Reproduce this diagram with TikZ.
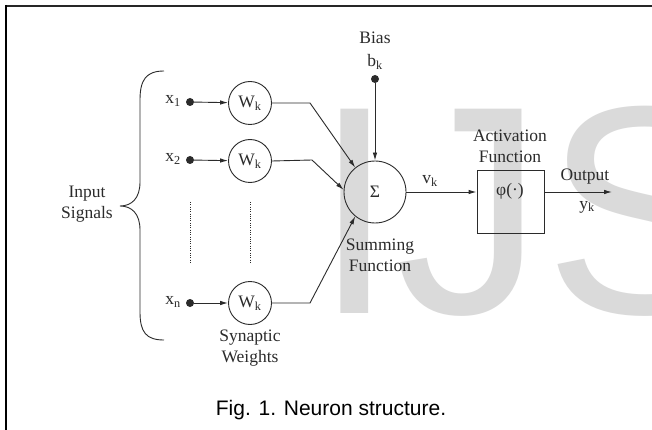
\documentclass[tikz,border=0pt]{standalone}
\usepackage{fontspec}
\newfontfamily\capfont{Liberation Sans}
\newfontfamily\dfont{Liberation Serif}
\usetikzlibrary{arrows.meta}
\definecolor{ink}{HTML}{2B2B2B}
\definecolor{wm}{HTML}{DADADA}
\newcommand\dtext{\dfont\fontsize{17.5}{21}\selectfont}
\begin{document}
\begin{tikzpicture}[x=1pt,y=-1pt,
  lbl/.style={align=center, inner sep=0, font=\dtext, text=ink},
  line/.style={draw=ink, line width=0.9pt},
  arr/.style={line, -{Latex[length=8pt,width=4.5pt]}},
  wnode/.style={circle, draw=ink, line width=0.9pt, minimum size=43pt, inner sep=0, font=\dtext, text=ink},
  dotnode/.style={circle, fill=ink, minimum size=8pt, inner sep=0},
  dotline/.style={draw=ink, line width=0.8pt, dash pattern=on 1pt off 1.3pt},
]
\useasboundingbox (0,0) rectangle (652,430);
\fill[white] (0,0) rectangle (652,430);
% watermark
\begin{scope}
\clip (0,0) rectangle (652,430);
\node[anchor=base west, inner sep=0, text=wm, font=\capfont\fontsize{297}{300}\selectfont] (wmark) at (313,313) {IJS};
\end{scope}
% frame
\draw[black!85, line width=1.8pt] (5,6) -- (652,6);
\draw[black, line width=2.2pt] (6,5) -- (6,430);

% inputs
\node[dotnode] (d1) at (190,102) {};
\node[dotnode] (d2) at (190,160) {};
\node[dotnode] (dn) at (190,303) {};
\node[lbl, anchor=east] (x1) at (181,101) {x\textsubscript{1}};
\node[lbl, anchor=east] (x2) at (181,159) {x\textsubscript{2}};
\node[lbl, anchor=east] (xn) at (181,302) {x\textsubscript{n}};

\node[wnode] (w1) at (250,103) {W\textsubscript{k}};
\node[wnode] (w2) at (250,161) {W\textsubscript{k}};
\node[wnode] (wn) at (250,303) {W\textsubscript{k}};

\draw[arr] (d1) -- (w1);
\draw[arr] (d2) -- (w2);
\draw[arr] (dn) -- (wn);

\coordinate (a1) at (190,202); \coordinate (a2) at (190,263);
\coordinate (c1) at (250,202); \coordinate (c2) at (250,263);
\draw[dotline] (a1) -- (a2);
\draw[dotline] (c1) -- (c2);

% brace
\coordinate (bt) at (164,71);
\coordinate (bb) at (164,340);
\coordinate (btip) at (120,206);
\draw[ink, line width=0.9pt] (bt) .. controls (146,71) and (140,80) .. (140,100)
  -- (140,182) .. controls (140,198) and (132,206) .. (btip)
  .. controls (132,206) and (140,214) .. (140,230)
  -- (140,312) .. controls (140,332) and (146,340) .. (bb);
\node[lbl] (inp) at (87,204) {Input\\Signals};

% summing
\node[circle, draw=ink, line width=0.9pt, minimum size=62pt, inner sep=0, font=\dtext, text=ink] (sum) at (375,192) {Σ};
\node[dotnode] (bias) at (375,79) {};
\node[lbl] (biasl) at (375,38) {Bias};
\node[lbl] (bk) at (375,62) {b\textsubscript{k}};
\draw[arr] (bias) -- (sum);

\coordinate (b1) at (310,103);
\coordinate (b2) at (312,160);
\coordinate (bn) at (310,303);
\draw[arr] (w1.east) -- (b1) -- (sum.129);
\draw[arr] (w2.east) -- (b2) -- (sum.176);
\draw[arr] (wn.east) -- (bn) -- (sum.231);

\node[lbl] (suml) at (380,255) {Summing\\Function};
\node[lbl] (synl) at (250,348) {Synaptic\\Weights};

% activation
\node[draw=ink, line width=0.9pt, minimum width=67pt, minimum height=63pt, inner sep=0] (act) at (510.5,201.5) {};
\node[lbl] (phi) at (510,191) {φ(·)};
\node[lbl] (actl) at (510,146) {Activation\\Function};
\draw[arr] (sum.east) -- (sum.east -| act.west);
\node[lbl] (vk) at (430,181) {v\textsubscript{k}};

\coordinate (out) at (612,192);
\draw[arr] (act.east |- out) -- (out);
\node[lbl] (outl) at (585,177) {Output};
\node[lbl] (yk) at (587,207) {y\textsubscript{k}};

% caption
\node[inner sep=0, font=\capfont\fontsize{21}{24}\selectfont, text=black] (cap) at (331,410) {Fig. 1. Neuron structure.};
\end{tikzpicture}
\end{document}
